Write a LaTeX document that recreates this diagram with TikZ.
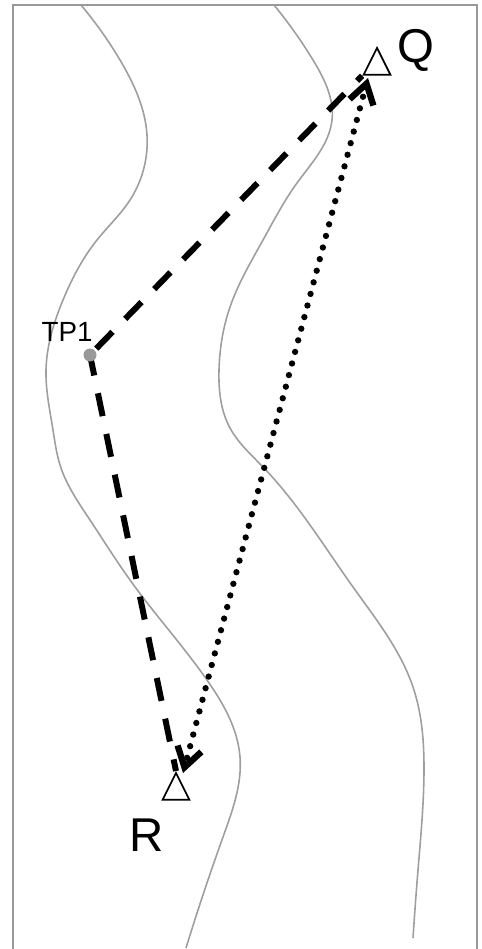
\documentclass[tikz,border=0pt]{standalone}
\usepackage{fontspec}
\setmainfont{Liberation Sans}
\usetikzlibrary{positioning, shapes, arrows.meta, hobby}
\definecolor{mygray}{gray}{0.62}
\definecolor{mydotgray}{gray}{0.6}

\tikzset{
  bank/.style={draw=mygray, line width=0.9pt, use Hobby shortcut},
  leg/.style={draw, line width=3.4pt, dash pattern=on 13.3pt off 10.34pt},
  station/.style={draw, isosceles triangle, isosceles triangle apex angle=53, isosceles triangle stretches, shape border rotate=90, minimum width=15.3pt, minimum height=15.3pt, inner sep=0pt, line width=1pt, fill=white, anchor=apex},
  bigtext/.style={font=\fontsize{27}{30}\selectfont, inner sep=0pt},
}

\begin{document}
\begin{tikzpicture}[>=latex, x=0.02cm, y=-0.02cm]
  \useasboundingbox (0,0) rectangle (481,949);

  % Frame
  \draw[mydotgray, line width=1.4pt] (13,949) -- (13,5) -- (477,5) -- (477,949);

  % Banks
  \draw[bank] (81,5) .. (120,60) .. (147,135) .. (130,200) .. (97,240) .. (63,300) .. (46,370) .. (53,430) .. (60,465) .. (90,520) .. (130,580) .. (207,680) .. (240,757) .. (223,837) .. (186,948);
  \draw[bank] (274,5) .. (313,60) .. (332,120) .. (297,183) .. (263,240) .. (230,307) .. (219,370) .. (230,428) .. (263,467) .. (353,587) .. (413,687) .. (424,770) .. (418,870) .. (413,938);

  % Stations
  \node (q) at (377,46) [station] {};
  \node (r) at (176,771) [station] {};
  \node (tp1) at (90,355) [circle, minimum size=7.3pt, inner sep=0pt] {};
  \coordinate (qtip) at (368,78);
  \coordinate (rtip) at (183,773);

  % Labels
  \node (qlabel) at (416,50) [bigtext] {Q};
  \node (rlabel) at (147,835) [bigtext] {R};
  \node (tplabel) at (67,332) [font=\fontsize{15.8}{18}\selectfont, inner sep=0pt] {TP1};

  % Dashed legs
  \draw[leg, dash phase=18.54pt] (tp1.center) -- (q.left corner);
  \draw[leg, dash phase=1.4pt] (tp1.center) -- (r.apex);

  % Dotted leg
  \draw[{Straight Barb[length=11pt,width=14pt]}-{Straight Barb[length=11pt,width=14pt]}, line width=3.6pt, line cap=round, dash pattern=on 0pt off 6.83pt, dash phase=3pt] (rtip) -- (qtip);

  \fill[mydotgray] (tp1) circle (3.7pt);
\end{tikzpicture}
\end{document}
